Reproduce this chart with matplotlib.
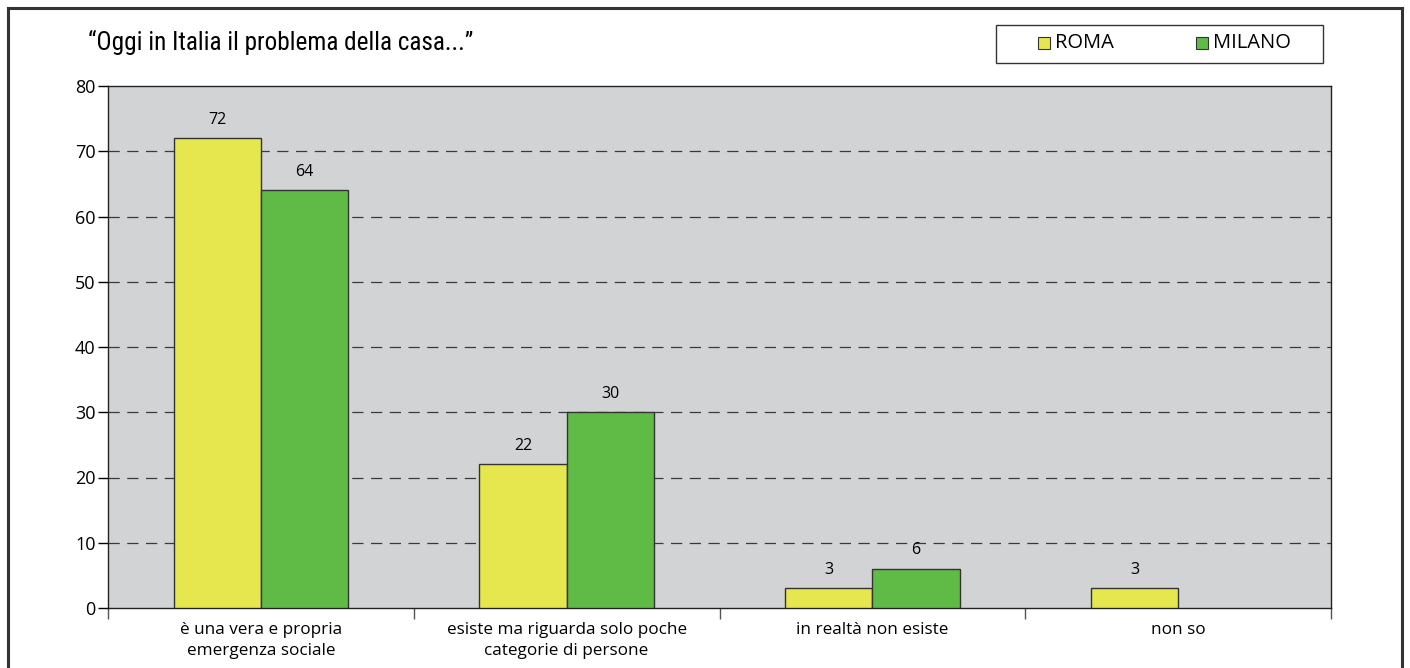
import matplotlib.pyplot as plt
from matplotlib.lines import Line2D
from matplotlib.patches import Rectangle
import numpy as np

categories = ["è una vera e propria\nemergenza sociale",
              "esiste ma riguarda solo poche\ncategorie di persone",
              "in realtà non esiste",
              "non so"]
roma = [72, 22, 3, 3]
milano = [64, 30, 6, None]
series_names = ["ROMA", "MILANO"]
yticks = [0, 10, 20, 30, 40, 50, 60, 70, 80]

yellow = "#e6e64e"
green = "#5fba46"
panel = "#d2d3d5"

plt.rcParams['font.family'] = ['Open Sans', 'DejaVu Sans']

fig = plt.figure(figsize=(14.1, 6.68), dpi=100)
W, H = 1410, 668

ax = fig.add_axes([108 / W, 1 - 608 / H, (1331 - 108) / W, (608 - 86) / H])
ax.set_facecolor(panel)

x = np.arange(len(categories))
bw = 0.285
for i in range(len(categories)):
    ax.bar(x[i] - bw / 2, roma[i], bw, color=yellow, edgecolor="#333333", lw=1, zorder=3)
    if roma[i] is not None:
        ax.text(x[i] - bw / 2, roma[i] + 1.6, str(roma[i]), ha="center", va="bottom", fontsize=11.5)
    if milano[i] is not None:
        ax.bar(x[i] + bw / 2, milano[i], bw, color=green, edgecolor="#333333", lw=1, zorder=3)
        ax.text(x[i] + bw / 2, milano[i] + 1.6, str(milano[i]), ha="center", va="bottom", fontsize=11.5)

ax.set_xlim(-0.5, len(categories) - 0.5)
ax.set_ylim(0, 80)
ax.set_yticks(yticks)
ax.tick_params(axis="y", length=7, width=1, labelsize=13, pad=2)

# labels sit under the category centre, tick marks at the boundaries
ax.set_xticks(x)
ax.set_xticklabels(categories, fontsize=12.3, linespacing=1.4)
ax.tick_params(axis="x", which="major", length=0, pad=10)
ax.set_xticks(np.arange(len(categories) + 1) - 0.5, minor=True)
ax.tick_params(axis="x", which="minor", length=8, width=1, color="#555555")

for y in yticks[1:-1]:
    ax.axhline(y, color="#3a3a3a", lw=0.9, ls=(0, (9, 6)), zorder=1)

for s in ax.spines.values():
    s.set_color("#222222")
    s.set_linewidth(1)

fig.text(88 / W, 1 - 42 / H, "\u201cOggi in Italia il problema della casa...\u201d",
         fontsize=18.2, va="center", ha="left",
         family=['Roboto Condensed', 'DejaVu Sans'])

# legend box
fig.patches.append(Rectangle((996 / W, 1 - 63 / H), (1323 - 996) / W, 38 / H,
                             transform=fig.transFigure, fill=False,
                             edgecolor="#333333", lw=1))
for name, col, lx in zip(series_names, [yellow, green], [1038, 1196]):
    fig.patches.append(Rectangle((lx / W, 1 - 49 / H), 12 / W, 12 / H,
                                 transform=fig.transFigure, facecolor=col,
                                 edgecolor="#333333", lw=0.8))
    fig.text((lx + 17) / W, 1 - 43 / H, name, fontsize=14.5, va="center", ha="left")

# outer frame (open at the bottom)
for xs, ys in [([8, 8], [668, 8]), ([8, 1402], [8, 8]), ([1402, 1402], [8, 668])]:
    fig.add_artist(Line2D([v / W for v in xs], [1 - v / H for v in ys],
                          color="#333333", lw=2.2))

fig.savefig("out.png", dpi=100)
